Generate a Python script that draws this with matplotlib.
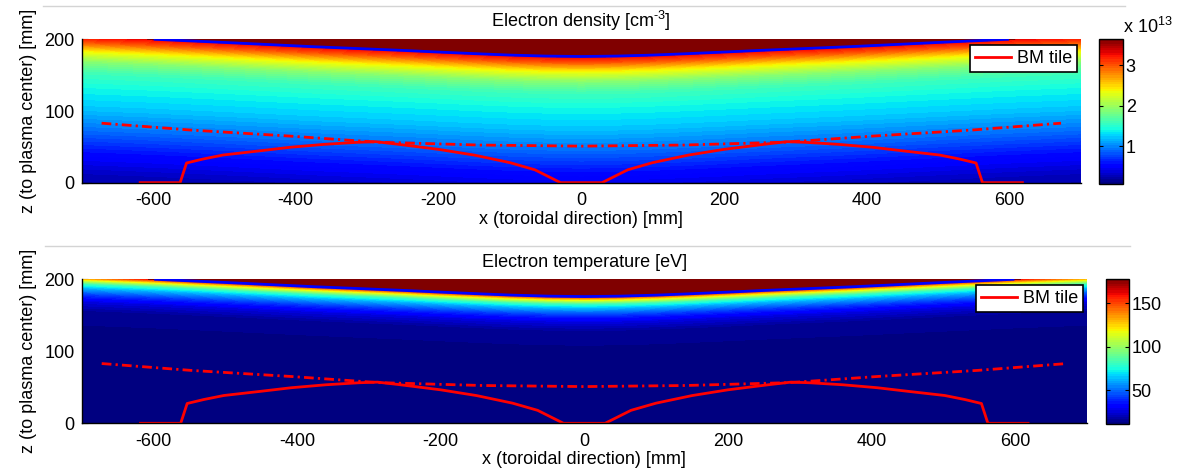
import numpy as np
import matplotlib
matplotlib.use('Agg')
import matplotlib.pyplot as plt
from matplotlib.lines import Line2D
from matplotlib.colors import Normalize
import matplotlib.cm as cm

plt.rcParams['font.family'] = ['Liberation Sans', 'DejaVu Sans']
plt.rcParams['font.size'] = 13
plt.rcParams['axes.unicode_minus'] = False
plt.rcParams['mathtext.fontset'] = 'custom'
plt.rcParams['mathtext.rm'] = 'Liberation Sans'

# upper boundary of the plasma region (blue line), x [mm] / z [mm]
bnd_x = np.array([-700, -597, -500, -376, -250, -200, -150, -100, -50, 0,
                  50, 100, 150, 200, 250, 376, 500, 597, 700])
bnd_z = np.array([204, 200, 195.6, 189.7, 184.5, 182.2, 180, 178, 176.6, 176,
                  176.6, 178, 180, 182.2, 184.5, 189.7, 195.6, 200, 204])

# electron density [1e13 cm^-3] vs depth below the boundary [mm]
n_depth = np.array([-60, -0.5, 0, 8, 20, 35, 50, 70, 100, 130, 160, 190, 230])
n_vals = np.array([9.0, 9.0, 3.3, 3.0, 2.4, 1.9, 1.6, 1.42, 1.22, 0.92, 0.58, 0.3, 0.1])

# electron temperature [eV] vs depth below the boundary [mm]
t_depth = np.array([-60, -0.5, 0, 3, 6, 10, 16, 25, 35, 50, 230])
t_vals = np.array([400, 400, 158, 132, 108, 82, 62, 42, 26, 14, 10])

# BM tile contour
bm_x = [-618, -562, -553, -530, -502, -450, -408, -360, -314, -288, -260, -200, -150,
        -100, -65, -29, 29, 65, 100, 150, 200, 260, 288, 314, 360, 408, 450, 502,
        530, 553, 562, 618]
bm_z = [0, 0, 27.5, 33, 38.6, 44.5, 49.4, 53.5, 56.3, 57.2, 54, 46.5, 38.5,
        28, 18, 0, 0, 18, 28, 38.5, 46.5, 54, 57.2, 56.3, 53.5, 49.4, 44.5, 38.6,
        33, 27.5, 0, 0]

# dash-dot line
dd_x = [-672, -548, -408, -286, -142, 0, 142, 286, 408, 548, 672]
dd_z = [83, 73.5, 65, 56.5, 52.5, 51, 52.5, 56.5, 65, 73.5, 83]

n_lim = (0.07, 3.65)
t_lim = (11, 178)

W, H = 1187, 470
fig = plt.figure(figsize=(W / 100, H / 100), dpi=100)

def px(l, t, r, b):
    return [l / W, 1 - b / H, (r - l) / W, (b - t) / H]

jet = plt.get_cmap('jet', 64)

panels = [
    dict(ax=px(81.6, 39.3, 1081, 182.7), cax=px(1099, 39, 1123, 184),
         depth=n_depth, vals=n_vals, lim=n_lim, ticks=[1, 2, 3],
         title=r'Electron density [cm$^{\text{-3}}$]', sep=(43, 1125, 6)),
    dict(ax=px(81.6, 279.3, 1087, 423.3), cax=px(1106, 279, 1129, 424),
         depth=t_depth, vals=t_vals, lim=t_lim, ticks=[50, 100, 150],
         title='Electron temperature [eV]', sep=(45, 1130, 246)),
]

for p in panels:
    # light gray window border above each panel
    x0, x1, yy = p['sep']
    fig.add_artist(Line2D([x0 / W, x1 / W], [1 - yy / H, 1 - yy / H],
                          color='#d4d4d4', lw=1))

    ax = fig.add_axes(p['ax'])
    X = np.tile(bnd_x, (len(p['depth']), 1))
    Z = bnd_z[None, :] - p['depth'][:, None]
    C = np.tile(p['vals'][:, None], (1, len(bnd_x)))
    lo, hi = p['lim']
    ax.contourf(X, Z, C, levels=np.linspace(lo, hi, 65), cmap=jet, extend='both')

    ax.plot(bnd_x[1:-1], bnd_z[1:-1], color='#0000ff', lw=2.0)
    ax.plot(dd_x, dd_z, color='red', lw=2.0, linestyle=(0, (3.5, 1.5, 0.8, 1.5)))
    bm, = ax.plot(bm_x, bm_z, color='red', lw=2.0, label='BM tile')

    ax.set_xlim(-700, 700)
    ax.set_ylim(0, 200)
    ax.set_xticks(np.arange(-600, 601, 200))
    ax.set_yticks([0, 100, 200])
    ax.set_axisbelow(True)
    for s in ['top', 'right']:
        ax.spines[s].set_visible(False)
    for s in ['left', 'bottom']:
        ax.spines[s].set_linewidth(1.0)
    ax.tick_params(direction='in', length=4, width=0.8)
    ax.tick_params(axis='x', pad=7)
    ax.tick_params(axis='y', pad=5)
    ax.set_xlabel('x (toroidal direction) [mm]', labelpad=1)
    ax.set_ylabel('z (to plasma center) [mm]', labelpad=5)
    ax.set_title(p['title'], pad=9, fontsize=13)

    w_px = p['ax'][2] * W
    h_px = p['ax'][3] * H
    leg = ax.legend(handles=[bm], loc='upper right',
                    bbox_to_anchor=(1 - 4 / w_px, 1 - 6 / h_px), borderaxespad=0,
                    fancybox=False, framealpha=1, edgecolor='black',
                    handlelength=2.0, handletextpad=0.3, borderpad=0.28)
    leg.get_frame().set_linewidth(1.2)

    cax = fig.add_axes(p['cax'])
    cb = fig.colorbar(cm.ScalarMappable(norm=Normalize(lo, hi), cmap=jet),
                      cax=cax, ticks=p['ticks'])
    cb.outline.set_linewidth(1.0)
    cax.tick_params(direction='in', length=3, width=0.8, left=True, right=True, pad=2)
    cax.minorticks_off()

fig.text(1123 / W, 1 - 33 / H, r'x 10$^{13}$', ha='left', va='baseline', fontsize=13)

fig.savefig('out.png', dpi=100)
